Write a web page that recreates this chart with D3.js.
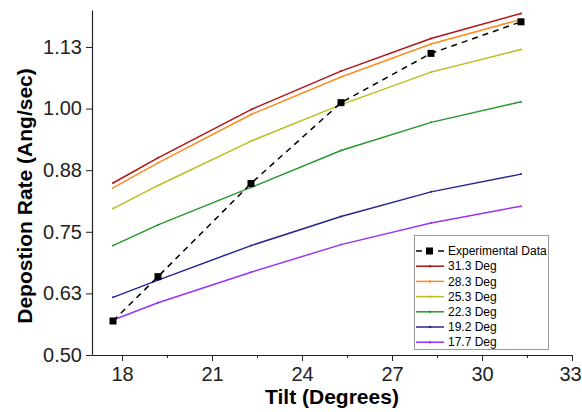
<!DOCTYPE html>
<html>
<head>
<meta charset="utf-8">
<script src="https://cdn.jsdelivr.net/npm/d3@7"></script>
<style>
  body { margin: 0; background: #fff; }
  svg { display: block; font-family: "Liberation Sans", Arial, sans-serif; }
</style>
</head>
<body>
<div id="chart"></div>
<script>
// tilt positions (degrees)
const tilts = [17.7, 19.2, 22.3, 25.3, 28.3, 31.3];

// measured deposition rate
const experimental = [0.569, 0.659, 0.848, 1.012, 1.112, 1.176];

// simulated curves, one per source angle
const seriesNames = ["31.3 Deg", "28.3 Deg", "25.3 Deg", "22.3 Deg", "19.2 Deg", "17.7 Deg"];
const sim313 = [0.849, 0.900, 0.998, 1.076, 1.142, 1.193];
const sim283 = [0.839, 0.890, 0.988, 1.064, 1.131, 1.181];
const sim253 = [0.797, 0.844, 0.934, 1.008, 1.074, 1.120];
const sim223 = [0.722, 0.764, 0.840, 0.915, 0.972, 1.014];
const sim192 = [0.617, 0.652, 0.722, 0.781, 0.831, 0.867];
const sim177 = [0.571, 0.606, 0.668, 0.724, 0.768, 0.802];
const seriesColors = ["#b01414", "#ff8a1e", "#bcbc22", "#28982a", "#26268e", "#9933f5"];

const xTicks = [18, 21, 24, 27, 30, 33];
const yTicks = [0.5, 0.625, 0.75, 0.875, 1.0, 1.125];

const W = 582, H = 412;
const m = { left: 92, right: 10, top: 10, bottom: 57 };

const svg = d3.select("#chart").append("svg")
  .attr("width", W).attr("height", H);

const x = d3.scaleLinear().domain([17, 33]).range([m.left, W - m.right]);
const y = d3.scaleLinear().domain([0.5, 1.2]).range([H - m.bottom, m.top]);

// axes
const xAxis = svg.append("g")
  .attr("transform", `translate(0,${H - m.bottom})`)
  .call(d3.axisBottom(x).tickValues(xTicks).tickSize(6).tickSizeOuter(0).tickFormat(d3.format("d")));
// minor ticks on x
svg.append("g")
  .attr("transform", `translate(0,${H - m.bottom})`)
  .call(d3.axisBottom(x).tickValues([19.5, 22.5, 25.5, 28.5, 31.5]).tickSize(3).tickSizeOuter(0).tickFormat(""))
  .call(g => g.select(".domain").remove());

const yAxis = svg.append("g")
  .attr("transform", `translate(${m.left},0)`)
  .call(d3.axisLeft(y).tickValues(yTicks).tickSize(6).tickSizeOuter(0).tickFormat(d3.format(".2f")));

svg.selectAll(".tick line").attr("stroke", "#222");
svg.selectAll(".domain").attr("stroke", "#222").attr("stroke-width", 1.2);
xAxis.selectAll("text").attr("font-size", 20).attr("fill", "#222").attr("dy", "0.85em")
  .attr("dx", d => d === 33 ? -2 : 0);
yAxis.selectAll("text").attr("font-size", 20).attr("fill", "#222").attr("x", -10);

// axis titles
svg.append("text")
  .attr("x", (m.left + W - m.right) / 2).attr("y", 404)
  .attr("text-anchor", "middle").attr("font-size", 21).attr("font-weight", "bold")
  .text("Tilt (Degrees)");
svg.append("text")
  .attr("transform", "translate(32,196) rotate(-90)")
  .attr("text-anchor", "middle").attr("font-size", 21).attr("font-weight", "bold")
  .text("Depostion Rate (Ang/sec)");

const line = d3.line().x((d, i) => x(tilts[i])).y(d => y(d));

const sims = [sim313, sim283, sim253, sim223, sim192, sim177];
sims.forEach((s, k) => {
  svg.append("path").datum(s)
    .attr("d", line).attr("fill", "none")
    .attr("stroke", seriesColors[k]).attr("stroke-width", 1.5);
  svg.selectAll(null).data(s).enter().append("circle")
    .attr("cx", (d, i) => x(tilts[i])).attr("cy", d => y(d))
    .attr("r", 1).attr("fill", seriesColors[k]);
});

// experimental data
svg.append("path").datum(experimental)
  .attr("d", line).attr("fill", "none")
  .attr("stroke", "#000").attr("stroke-width", 1.5)
  .attr("stroke-dasharray", "6,5");
svg.selectAll(null).data(experimental).enter().append("rect")
  .attr("x", (d, i) => x(tilts[i]) - 3.5).attr("y", d => y(d) - 3.5)
  .attr("width", 7).attr("height", 7).attr("fill", "#000");

// legend
const lg = svg.append("g");
lg.append("rect")
  .attr("x", 414.5).attr("y", 235.5).attr("width", 134).attr("height", 114)
  .attr("fill", "#fff").attr("stroke", "#999");
const rowY = d => 251 + d * 15.2;
lg.append("line").attr("x1", 416).attr("x2", 444).attr("y1", rowY(0)).attr("y2", rowY(0))
  .attr("stroke", "#000").attr("stroke-width", 1.5).attr("stroke-dasharray", "6,5");
lg.append("rect").attr("x", 426).attr("y", rowY(0) - 3.5).attr("width", 7).attr("height", 7).attr("fill", "#000");
lg.append("text").attr("x", 448).attr("y", rowY(0)).attr("dy", "0.35em")
  .attr("font-size", 12).text("Experimental Data");
seriesNames.forEach((name, k) => {
  const yy = rowY(k + 1);
  lg.append("line").attr("x1", 416).attr("x2", 444).attr("y1", yy).attr("y2", yy)
    .attr("stroke", seriesColors[k]).attr("stroke-width", 1.5);
  lg.append("circle").attr("cx", 430).attr("cy", yy).attr("r", 1.2).attr("fill", seriesColors[k]);
  lg.append("text").attr("x", 448).attr("y", yy).attr("dy", "0.35em")
    .attr("font-size", 12).text(name);
});
</script>
</body>
</html>
